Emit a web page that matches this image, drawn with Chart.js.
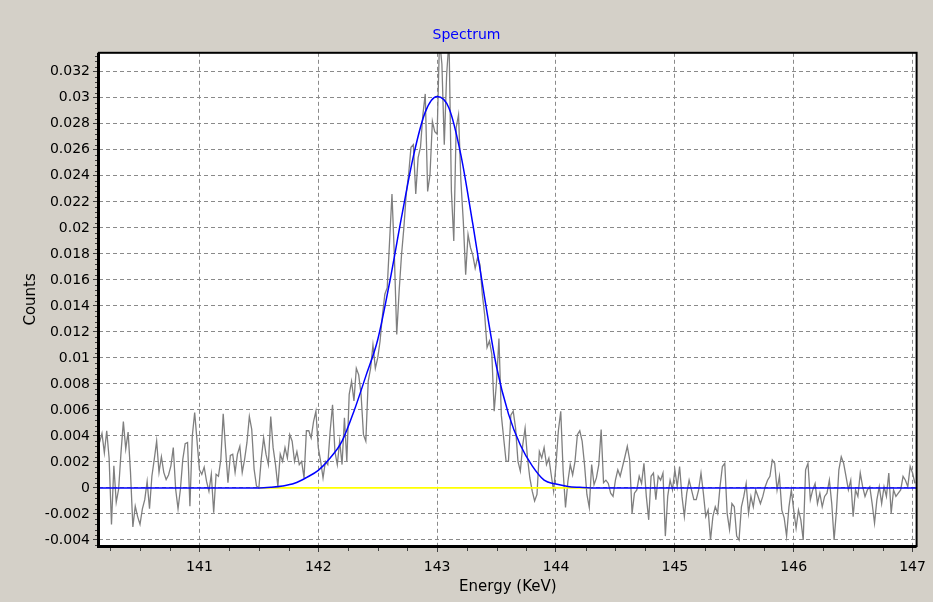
<!DOCTYPE html>
<html>
<head>
<meta charset="utf-8">
<script src="https://cdn.jsdelivr.net/npm/chart.js@4"></script>
<style>
  html, body { margin: 0; padding: 0; background: #D4D0C8; }
  canvas { display: block; }
</style>
</head>
<body>
<canvas id="c" width="933" height="602"></canvas>
<script>
// ---------- DATA ----------
// Channel calibration of the measured spectrum (keV)
const channelStart = 140.16;
const channelWidth = 0.02;

const spectrumLowTail = [
  0.0035, 0.0042, 0.0027, 0.0044, 0.0023, -0.0028, 0.0017, -0.0011, -0.0001, 0.0027,
  0.0051, 0.0030, 0.0043, 0.0012, -0.0030, -0.0014, -0.0022, -0.0028, -0.0016, -0.0009,
  0.0005, -0.0016, 0.0009, 0.0022, 0.0036, 0.0012, 0.0024, 0.0012, 0.00065, 0.0010,
  0.0017, 0.0031, -0.0001, -0.0016, -0.0001, 0.0022, 0.0034, 0.0035, -0.0014, 0.0040,
  0.0058, 0.0036, 0.0014, 0.00105, 0.0016, 0.0005, -0.00025, 0.00105, -0.0019, 0.00105,
  0.0009, 0.0022, 0.0057, 0.0030, 0.0004, 0.0025, 0.0026, 0.0012, 0.0026, 0.0032,
  0.0012, 0.0022, 0.0035, 0.0055, 0.0045, 0.00145, 0.00015, 0.0000, 0.0022
];
const spectrumRise = [
  0.00385, 0.0026, 0.0018, 0.0055, 0.0031, 0.0018, 0.0001, 0.0026, 0.00205, 0.0031,
  0.0023, 0.0041, 0.0036, 0.00205, 0.0028, 0.0018, 0.00205, 0.00077, 0.0044, 0.0044,
  0.00385, 0.0051, 0.0059, 0.0031, 0.00205, 0.00077, 0.00205, 0.0018, 0.0044, 0.0064,
  0.0028, 0.0018, 0.0036, 0.0018, 0.0054, 0.00205, 0.0072, 0.0082, 0.0067, 0.0092,
  0.0087, 0.0072, 0.0041, 0.0036, 0.0082, 0.0092, 0.0110, 0.0092, 0.0100, 0.0113,
  0.0133, 0.0149, 0.0154, 0.0190, 0.0226, 0.0179, 0.0118, 0.0151, 0.0179, 0.0200,
  0.0226, 0.0241, 0.0262, 0.0264, 0.0226, 0.0254, 0.0262, 0.0287, 0.0303, 0.0228,
  0.0241, 0.0282, 0.0274, 0.0272
];
const spectrumFall = [
  0.0345, 0.0326, 0.0264, 0.0318, 0.0345, 0.0228, 0.0190, 0.0277, 0.0287, 0.0236,
  0.0205, 0.0164, 0.0195, 0.0185, 0.0179, 0.0169, 0.0177, 0.0172, 0.0149, 0.0133,
  0.0108, 0.0113, 0.0103, 0.0059, 0.0082, 0.0115, 0.0056, 0.0038, 0.00205, 0.00205,
  0.0056, 0.0059, 0.0046, 0.00205, 0.0013, 0.0033, 0.0046, 0.0023, 0.00077, -0.00025,
  -0.0010, -0.0005, 0.0028, 0.0023, 0.0031, 0.0018, 0.0023, 0.0010, -0.00025, 0.0018,
  0.0044, 0.0059, 0.0013, -0.0015, 0.0005, 0.0018, 0.0010, 0.00205, 0.0041, 0.0044,
  0.0036, 0.0018, -0.0005, -0.0015, 0.0018, 0.00025, 0.00077, 0.0018, 0.0045, 0.0004
];
const spectrumHighTail = [
  0.0006, 0.00035, -0.0004, -0.00065, 0.0006, 0.0014, 0.0009, 0.00165, 0.0024, 0.0032,
  0.00215, -0.00195, -0.0004, -0.00015, 0.0009, 0.00035, 0.0019, -0.00065, -0.00245, 0.0009,
  0.00115, -0.0009, 0.0009, 0.0006, 0.00115, -0.0037, -0.00065, 0.0006, -0.00015, 0.0014,
  0.0001, 0.00165, -0.00065, -0.0022, -0.0004, 0.0006, -0.00015, -0.0009, -0.0009, -0.00015,
  0.00115, -0.0004, -0.0022, -0.0017, -0.0040, -0.0022, -0.00145, -0.00195, 0.0001, 0.00165,
  0.0019, -0.00195, -0.0032, -0.0012, -0.00145, -0.0037, -0.0040, -0.00145, -0.00065, 0.00035,
  -0.00195, -0.00065, -0.00145, -0.00015, -0.00065, -0.0012, -0.00065, 0.0001, 0.0006, 0.0009,
  0.00215, 0.0019, -0.00015, 0.0009, -0.0017, -0.0023, -0.0037, -0.00145, -0.00015, -0.0017,
  -0.0031, -0.0017, -0.00245, -0.0040, 0.0014, 0.0019, -0.0009, -0.00015, 0.00035, -0.0012,
  -0.0004, -0.00145, -0.00065, -0.0004, 0.0006, -0.0012, -0.0040, -0.0017, 0.0014, 0.0024,
  0.0019, 0.0009, -0.00015, 0.0006, -0.0022, -0.00015, -0.00065, 0.00115, 0.0001, -0.00065,
  -0.00015, 0.0001, -0.0012, -0.0027, -0.0009, 0.0001, -0.0012, 0.0001, -0.00065, 0.00115,
  -0.00195, -0.00015, -0.00065, -0.0004, -0.00015, 0.0009, 0.0006, 0.0001, 0.00165, 0.00115,
  0.00035
];

// Fitted peak (blue curve)
const fitEnergy = [140.155, 141.50, 141.60, 141.70, 141.80, 141.90, 142.00, 142.10, 142.20, 142.30,
  142.40, 142.50, 142.60, 142.70, 142.80, 142.90, 143.00, 143.10, 143.20, 143.30,
  143.40, 143.50, 143.60, 143.70, 143.80, 143.90, 144.00, 144.10, 144.20, 144.30, 147.034];
const fitCounts = [0, 0, 0.00005, 0.00015, 0.00036, 0.0008, 0.00135, 0.0023, 0.0036, 0.0059,
  0.0086, 0.0114, 0.0158, 0.0208, 0.0255, 0.0289, 0.0301, 0.0292, 0.0256, 0.0203,
  0.0146, 0.0093, 0.0057, 0.0033, 0.0017, 0.0006, 0.0003, 0.00012, 0.00005, 0, 0];

// Fit baseline (yellow)
const baselineEnergy = [141.50, 144.30];
const baselineCounts = [0, 0];

// Axis ticks
const xTickValues = [141, 142, 143, 144, 145, 146, 147];
const xTickLabels = ['141', '142', '143', '144', '145', '146', '147'];
const yTickValues = [-0.004, -0.002, 0, 0.002, 0.004, 0.006, 0.008, 0.01, 0.012, 0.014, 0.016,
  0.018, 0.02, 0.022, 0.024, 0.026, 0.028, 0.03, 0.032];
const yTickLabels = ['-0.004', '-0.002', '0', '0.002', '0.004', '0.006', '0.008', '0.01', '0.012',
  '0.014', '0.016', '0.018', '0.02', '0.022', '0.024', '0.026', '0.028', '0.03', '0.032'];

// ---------- BUILD ----------
const spectrumCounts = [...spectrumLowTail, ...spectrumRise, ...spectrumFall, ...spectrumHighTail];
const spectrumPoints = spectrumCounts.map((v, i) => ({ x: channelStart + i * channelWidth, y: v }));
const fitPoints = fitEnergy.map((e, i) => ({ x: e, y: fitCounts[i] }));
const basePoints = baselineEnergy.map((e, i) => ({ x: e, y: baselineCounts[i] }));

function findIdx(list, v, eps) { return list.findIndex(t => Math.abs(t - v) < eps); }
const isMajorX = v => findIdx(xTickValues, v, 1e-6) >= 0;
const isMajorY = v => findIdx(yTickValues, v, 1e-7) >= 0;

Chart.defaults.font.family = '"DejaVu Sans", Verdana, sans-serif';
Chart.defaults.color = '#000';

const panelPlugin = {
  id: 'panel',
  beforeDraw(chart) {
    const { ctx, chartArea: a, width, height } = chart;
    ctx.save();
    ctx.fillStyle = '#D4D0C8';
    ctx.fillRect(0, 0, width, height);
    ctx.fillStyle = '#FFFFFF';
    ctx.fillRect(a.left, a.top, a.right - a.left, a.bottom - a.top);
    ctx.restore();
  },
  afterDraw(chart) {
    const { ctx, chartArea: a, scales } = chart;
    ctx.save();
    // minor ticks
    ctx.strokeStyle = '#404040';
    ctx.lineWidth = 1;
    ctx.beginPath();
    scales.y.ticks.forEach(t => {
      if (!isMajorY(t.value)) {
        const py = Math.round(scales.y.getPixelForValue(t.value)) + 0.5;
        ctx.moveTo(a.left - 4, py); ctx.lineTo(a.left, py);
      }
    });
    scales.x.ticks.forEach(t => {
      if (!isMajorX(t.value)) {
        const px = Math.round(scales.x.getPixelForValue(t.value)) + 0.5;
        ctx.moveTo(px, a.bottom); ctx.lineTo(px, a.bottom + 5);
      }
    });
    ctx.stroke();
    // frame
    ctx.strokeStyle = '#000';
    ctx.lineWidth = 2;
    ctx.strokeRect(a.left, a.top, a.right - a.left, a.bottom - a.top);
    ctx.lineWidth = 3;
    ctx.beginPath();
    ctx.moveTo(a.left - 0.5, a.top);
    ctx.lineTo(a.left - 0.5, a.bottom + 0.5);
    ctx.lineTo(a.right, a.bottom + 0.5);
    ctx.stroke();
    ctx.restore();
  }
};

new Chart(document.getElementById('c'), {
  type: 'line',
  data: {
    datasets: [
      {
        label: 'Fit',
        data: fitPoints,
        borderColor: '#0000FF',
        borderWidth: 1.5,
        pointRadius: 0,
        cubicInterpolationMode: 'monotone',
        fill: false
      },
      {
        label: 'Baseline',
        data: basePoints,
        borderColor: '#FFFF00',
        borderWidth: 1.8,
        pointRadius: 0,
        fill: false
      },
      {
        label: 'Spectrum',
        data: spectrumPoints,
        borderColor: '#7F7F7F',
        borderWidth: 1.3,
        pointRadius: 0,
        fill: false
      }
    ]
  },
  plugins: [panelPlugin],
  options: {
    responsive: false,
    animation: false,
    devicePixelRatio: 1,
    layout: { padding: 0 },
    plugins: {
      legend: { display: false },
      tooltip: { enabled: false },
      title: {
        display: true,
        text: 'Spectrum',
        color: '#0000FF',
        font: { size: 14, weight: 'normal' },
        padding: { top: 27, bottom: 9 }
      }
    },
    scales: {
      x: {
        type: 'linear',
        position: 'bottom',
        min: 140.155,
        max: 147.034,
        afterFit: s => { s.height = 56; },
        ticks: {
          stepSize: 0.25,
          includeBounds: false,
          autoSkip: false,
          maxRotation: 0,
          padding: 7,
          color: '#000',
          font: { size: 14 },
          callback: v => { const k = findIdx(xTickValues, v, 1e-6); return k >= 0 ? xTickLabels[k] : ''; }
        },
        grid: {
          drawTicks: true,
          tickLength: 6,
          color: c => (c.tick && isMajorX(c.tick.value)) ? '#8A8A8A' : 'rgba(0,0,0,0)',
          tickColor: c => (c.tick && isMajorX(c.tick.value)) ? '#404040' : 'rgba(0,0,0,0)',
          lineWidth: 1
        },
        border: { display: false, dash: [4, 3] },
        title: {
          display: true,
          text: 'Energy (KeV)',
          color: '#000',
          font: { size: 15 },
          padding: { top: 0, bottom: 6 }
        }
      },
      y: {
        type: 'linear',
        position: 'left',
        min: -0.004462,
        max: 0.033462,
        afterFit: s => { s.width = 99; },
        ticks: {
          stepSize: 0.0004,
          includeBounds: false,
          autoSkip: false,
          padding: 3,
          color: '#000',
          font: { size: 14 },
          callback: v => { const k = findIdx(yTickValues, v, 1e-7); return k >= 0 ? yTickLabels[k] : ''; }
        },
        grid: {
          drawTicks: true,
          tickLength: 6,
          color: c => (c.tick && isMajorY(c.tick.value)) ? '#8A8A8A' : 'rgba(0,0,0,0)',
          tickColor: c => (c.tick && isMajorY(c.tick.value)) ? '#404040' : 'rgba(0,0,0,0)',
          lineWidth: 1
        },
        border: { display: false, dash: [4, 3] },
        title: {
          display: true,
          text: 'Counts',
          color: '#000',
          font: { size: 15 },
          padding: { top: 22, bottom: 0 }
        }
      },
      yRight: {
        type: 'linear',
        position: 'right',
        display: true,
        afterFit: s => { s.width = 16; },
        ticks: { display: false },
        grid: { display: false, drawTicks: false },
        border: { display: false },
        title: { display: false }
      }
    }
  }
});
</script>
</body>
</html>
